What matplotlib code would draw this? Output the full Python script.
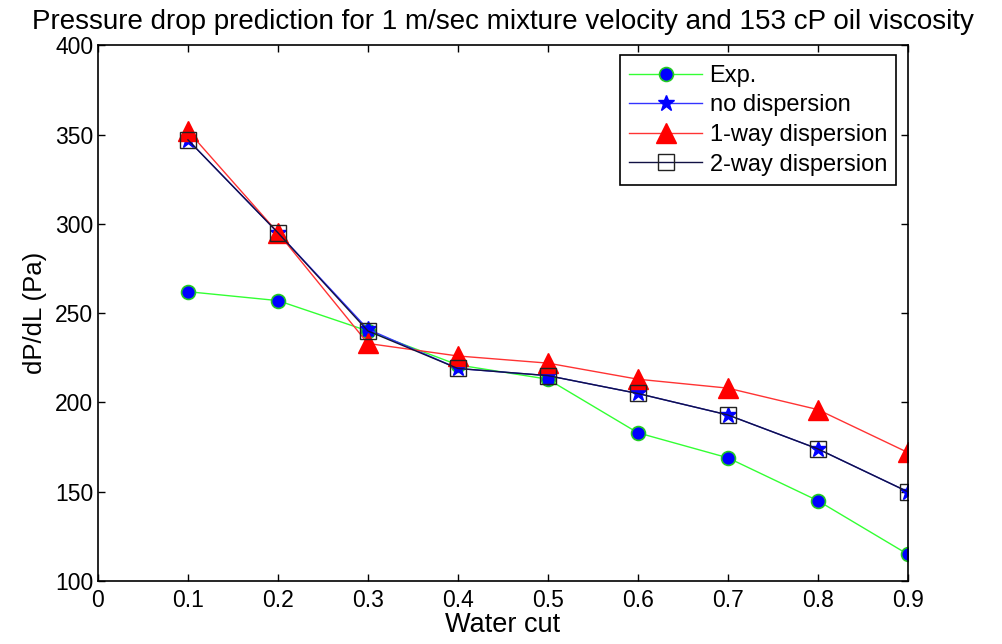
import matplotlib
matplotlib.use("Agg")
import matplotlib.pyplot as plt

# Data
water_cut = [0.1, 0.2, 0.3, 0.4, 0.5, 0.6, 0.7, 0.8, 0.9]
exp_dp = [262, 257, 240, 221, 213, 183, 169, 145, 115]
no_disp = [347, 295, 241, 219, 215, 205, 193, 174, 150]
one_way = [352, 295, 233, 226, 222, 213, 208, 196, 172]
two_way = [347, 295, 240, 219, 215, 205, 193, 174, 150]

x_ticks = [0, 0.1, 0.2, 0.3, 0.4, 0.5, 0.6, 0.7, 0.8, 0.9]
x_labels = ['0', '0.1', '0.2', '0.3', '0.4', '0.5', '0.6', '0.7', '0.8', '0.9']
y_ticks = [100, 150, 200, 250, 300, 350, 400]

plt.rcParams['font.family'] = ['Liberation Sans', 'DejaVu Sans']

fig = plt.figure(figsize=(10.03, 6.44), dpi=100)
ax = fig.add_axes([0.0977, 0.0978, 0.8073, 0.832])

ax.plot(water_cut, exp_dp, color='#33ff33', lw=1, marker='o', ms=10,
        mfc='#0000ff', mec='#22cc22', mew=1.2, label='Exp.')
ax.plot(water_cut, no_disp, color='#3333ff', lw=1, marker='*', ms=12,
        mfc='#0000ff', mec='#0000ff', label='no dispersion')
ax.plot(water_cut, one_way, color='#ff3333', lw=1, marker='^', ms=14,
        mfc='#ff0000', mec='#ff0000', label='1-way dispersion')
ax.plot(water_cut, two_way, color='#111144', lw=1, marker='s', ms=11,
        mfc='none', mec='#222222', mew=1, label='2-way dispersion')

ax.set_xlim(0, 0.9)
ax.set_ylim(100, 400)
ax.set_xticks(x_ticks)
ax.set_xticklabels(x_labels)
ax.set_yticks(y_ticks)
ax.tick_params(direction='in', top=True, right=True, labelsize=16.5,
               length=5, width=1)
ax.tick_params(axis='x', pad=6)
for s in ax.spines.values():
    s.set_linewidth(1.2)

ax.set_xlabel('Water cut', fontsize=19.5, labelpad=0)
ax.set_ylabel('dP/dL (Pa)', fontsize=18.5, labelpad=6)
ax.set_title('Pressure drop prediction for 1 m/sec mixture velocity and 153 cP oil viscosity',
             fontsize=20, pad=12)

leg = ax.legend(loc='upper right', bbox_to_anchor=(0.986, 0.981), borderaxespad=0,
                fontsize=17, fancybox=False, edgecolor='black', framealpha=1,
                handlelength=3.1, handletextpad=0.3, borderpad=0.4,
                labelspacing=0.32)
leg.get_frame().set_linewidth(1.2)

fig.savefig('out.png', dpi=100)
